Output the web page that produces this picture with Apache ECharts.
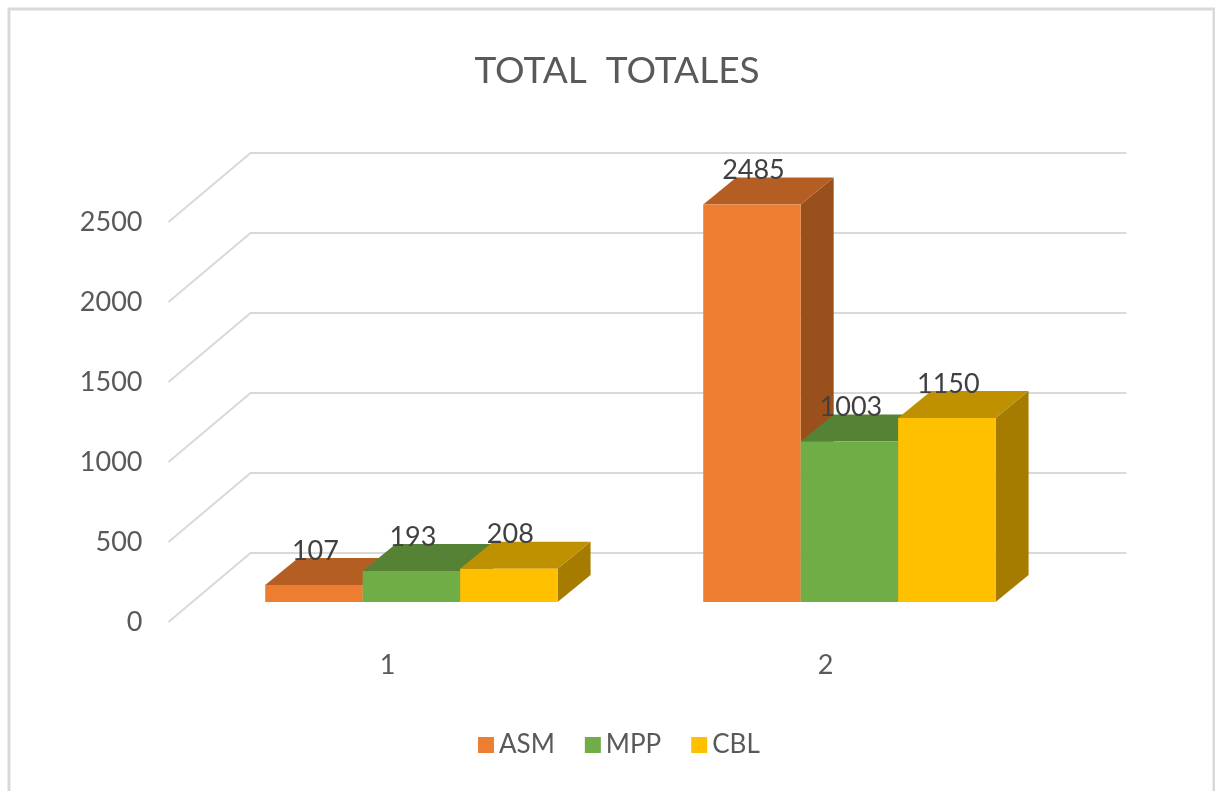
<!DOCTYPE html>
<html>
<head>
<meta charset="utf-8">
<style>
  html, body { margin: 0; padding: 0; background: #fff; }
  #main { width: 1215px; height: 791px; }
</style>
<script src="https://cdn.jsdelivr.net/npm/echarts@6/dist/echarts.min.js"></script>
</head>
<body>
<div id="main"></div>
<script>
var categories = ['1', '2'];
var asm = [107, 2485];
var mpp = [193, 1003];
var cbl = [208, 1150];
var wallTicks = [0, 500, 1000, 1500, 2000, 2500];

var FONT = 'Lato, "Open Sans", sans-serif';
var TEXT = '#595959';

// fake 3d: how far the walls and the bars go back, in pixels
var WALL_DX = 82, WALL_DY = -69;
var BAR_X = 23.9, BAR_Y = -20;
var DEPTH_X = 33, DEPTH_Y = -27;
var BAR_RATIO = 0.2225;

var myChart = echarts.init(document.getElementById('main'));

function renderWall(params, api) {
  var front = api.coord([0, api.value(0)]);
  var band = api.size([1, 0])[0];
  var x0 = front[0] - band / 2;
  var x1 = x0 + band * categories.length;
  return {
    type: 'polyline',
    silent: true,
    shape: {
      points: [
        [x0, front[1]],
        [x0 + WALL_DX, front[1] + WALL_DY],
        [x1 + WALL_DX, front[1] + WALL_DY]
      ]
    },
    style: { fill: 'none', stroke: '#d9d9d9', lineWidth: 2 }
  };
}

function barRenderer(slot, colors) {
  return function (params, api) {
    var top = api.coord([api.value(0), api.value(1)]);
    var base = api.coord([api.value(0), 0]);
    var w = api.size([1, 0])[0] * BAR_RATIO;
    var l = top[0] + (slot - 1.5) * w + BAR_X;
    var r = l + w;
    var t = top[1] + BAR_Y;
    var b = base[1] + BAR_Y;
    return {
      type: 'group',
      children: [
        {
          type: 'polygon',
          shape: { points: [[r, t], [r + DEPTH_X, t + DEPTH_Y], [r + DEPTH_X, b + DEPTH_Y], [r, b]] },
          style: { fill: colors[2] }
        },
        {
          type: 'polygon',
          shape: { points: [[l, t], [l + DEPTH_X, t + DEPTH_Y], [r + DEPTH_X, t + DEPTH_Y], [r, t]] },
          style: { fill: colors[1] }
        },
        {
          type: 'rect',
          shape: { x: l, y: t, width: w, height: b - t },
          style: { fill: colors[0] }
        },
        {
          type: 'text',
          z2: 100,
          style: {
            x: (l + r) / 2 + 1.5,
            y: t - 34,
            text: String(api.value(1)),
            align: 'center',
            verticalAlign: 'middle',
            font: '27px ' + FONT,
            fill: '#404040'
          }
        }
      ]
    };
  };
}

function barSeries(name, values, slot, colors) {
  return {
    name: name,
    type: 'custom',
    clip: false,
    itemStyle: { color: colors[0] },
    encode: { x: 0, y: 1 },
    data: values.map(function (v, i) { return [i, v]; }),
    renderItem: barRenderer(slot, colors)
  };
}

var option = {
  animation: false,
  backgroundColor: '#ffffff',
  title: {
    text: 'TOTAL  TOTALES',
    left: 612,
    top: 48,
    textAlign: 'center',
    textStyle: { fontFamily: FONT, fontSize: 37, fontWeight: 'normal', color: TEXT }
  },
  legend: {
    data: ['ASM', 'MPP', 'CBL'],
    left: 478,
    top: 732,
    padding: 0,
    icon: 'rect',
    itemWidth: 16,
    itemHeight: 16,
    itemGap: 30,
    textStyle: { fontFamily: FONT, fontSize: 26, color: TEXT }
  },
  grid: { left: 168.5, top: 222, width: 876, height: 400 },
  xAxis: {
    type: 'category',
    data: categories,
    axisLine: { show: false },
    axisTick: { show: false },
    axisLabel: { fontFamily: FONT, fontSize: 27, color: TEXT, margin: 30 }
  },
  yAxis: {
    type: 'value',
    min: 0,
    max: 2500,
    interval: 500,
    axisLine: { show: false },
    axisTick: { show: false },
    splitLine: { show: false },
    axisLabel: {
      fontFamily: FONT,
      fontSize: 27,
      color: TEXT,
      margin: 26,
      formatter: function (v) { return String(v); }
    }
  },
  graphic: [
    {
      type: 'polyline',
      silent: true,
      shape: { points: [[9, 791], [9, 9], [1214, 9], [1214, 791]] },
      style: { fill: 'none', stroke: '#d9d9d9', lineWidth: 3 }
    }
  ],
  series: [
    {
      name: 'walls',
      type: 'custom',
      clip: false,
      silent: true,
      encode: { y: 0 },
      data: wallTicks.map(function (t) { return [t]; }),
      renderItem: renderWall
    },
    barSeries('ASM', asm, 0, ['#ed7d31', '#b55e23', '#9a501c']),
    barSeries('MPP', mpp, 1, ['#70ad47', '#568235', '#4a702e']),
    barSeries('CBL', cbl, 2, ['#ffc000', '#bf9000', '#a67c00'])
  ]
};

option && myChart.setOption(option);
</script>
</body>
</html>
